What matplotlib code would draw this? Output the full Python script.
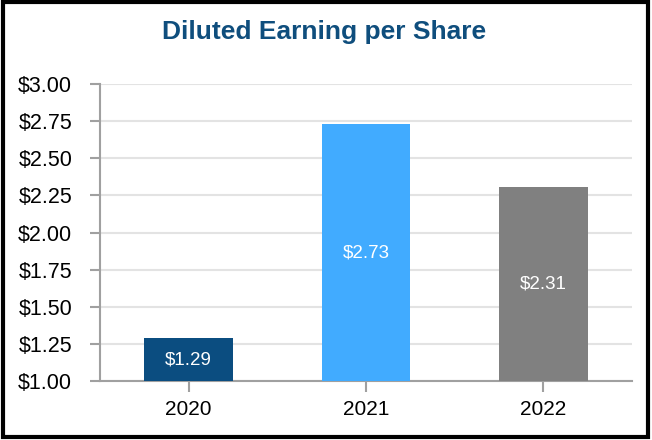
import matplotlib.pyplot as plt
from matplotlib.patches import Rectangle

plt.rcParams['font.family'] = ['Liberation Sans', 'DejaVu Sans']

years = ['2020', '2021', '2022']
eps = [1.29, 2.73, 2.31]
bar_colors = ['#0b4d80', '#41abff', '#808080']
yticks = [1.00, 1.25, 1.50, 1.75, 2.00, 2.25, 2.50, 2.75, 3.00]

fig = plt.figure(figsize=(6.52, 4.40), dpi=100)
ax = fig.add_axes([0.1534, 0.134, 0.816, 0.675])

x = range(len(years))
bars = ax.bar(x, eps, width=0.5, bottom=0, color=bar_colors, zorder=3)
for xi, v in zip(x, eps):
    ax.text(xi, (1.0 + v) / 2, '${:.2f}'.format(v), ha='center', va='center',
            color='white', fontsize=13.5, zorder=4)

ax.set_ylim(1.0, 3.0)
ax.set_xlim(-0.5, 2.5)
ax.set_yticks(yticks)
ax.set_yticklabels(['${:.2f}'.format(t) for t in yticks], fontsize=15.5)
ax.set_xticks(list(x))
ax.set_xticklabels(years, fontsize=15)
ax.grid(axis='y', color='#e3e3e3', linewidth=1.5, zorder=0)

for s in ['top', 'right']:
    ax.spines[s].set_visible(False)
for s in ['left', 'bottom']:
    ax.spines[s].set_color('#a0a0a0')
    ax.spines[s].set_linewidth(1.5)
ax.tick_params(axis='y', length=7, width=1.5, color='#a0a0a0', pad=13)
ax.tick_params(axis='x', length=8, width=1.5, color='#a0a0a0', pad=6)

fig.text(0.497, 0.927, 'Diluted Earning per Share', ha='center', va='center',
         fontsize=19, fontweight='bold', color='#0f4e7d')

fig.patches.append(Rectangle((0.004, 0.007), 0.99, 0.988, transform=fig.transFigure,
                             fill=False, edgecolor='black', linewidth=3))

fig.savefig('out.png', dpi=100)
